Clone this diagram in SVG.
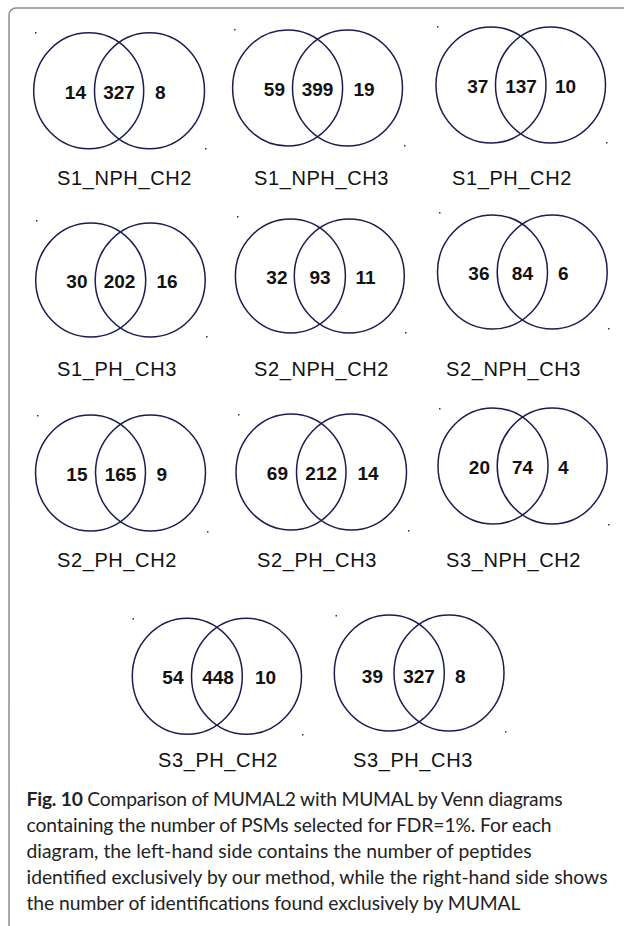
<svg xmlns="http://www.w3.org/2000/svg" width="624" height="926" viewBox="0 0 624 926">
<style>
.frame{fill:none;stroke:#8c8c8c;stroke-width:1.5}
.c{fill:none;stroke:#1c1c50;stroke-width:1.5}
.n{font-family:"Liberation Sans",Arial,sans-serif;font-weight:bold;font-size:19px;fill:#111}
.l{font-family:"Liberation Sans",Arial,sans-serif;font-size:20px;letter-spacing:0.6px;fill:#111}
.d{fill:#333}
.cap{font-family:Lato,"Open Sans",sans-serif;font-size:19.3px;fill:#222}
.capb{font-weight:bold}
</style>
<rect class="frame" x="9" y="8" width="700" height="1000" rx="7"/>
<g id="v1">
<ellipse class="c" cx="88.7" cy="90.7" rx="55" ry="58"/><ellipse class="c" cx="149.5" cy="90.7" rx="55" ry="58"/>
<text class="n" x="86" y="99" text-anchor="end">14</text><text class="n" x="119" y="99" text-anchor="middle">327</text><text class="n" x="155" y="99">8</text>
<text class="l" x="57" y="185">S1_NPH_CH2</text>
<rect class="d" x="35" y="32" width="1.5" height="1.5"/><rect class="d" x="205" y="148" width="1.5" height="1.5"/>
</g>
<g id="v2">
<ellipse class="c" cx="287.6" cy="88" rx="55" ry="58"/><ellipse class="c" cx="347.5" cy="88" rx="55" ry="58"/>
<text class="n" x="285" y="96" text-anchor="end">59</text><text class="n" x="317.5" y="96" text-anchor="middle">399</text><text class="n" x="353.5" y="96">19</text>
<text class="l" x="254" y="185">S1_NPH_CH3</text>
<rect class="d" x="234" y="29" width="1.5" height="1.5"/><rect class="d" x="404" y="145" width="1.5" height="1.5"/>
</g>
<g id="v3">
<ellipse class="c" cx="491" cy="85" rx="55" ry="58"/><ellipse class="c" cx="550.5" cy="85" rx="55" ry="58"/>
<text class="n" x="488.3" y="93" text-anchor="end">37</text><text class="n" x="521" y="93" text-anchor="middle">137</text><text class="n" x="555" y="93">10</text>
<text class="l" x="452" y="185">S1_PH_CH2</text>
<rect class="d" x="437" y="26" width="1.5" height="1.5"/><rect class="d" x="606" y="142" width="1.5" height="1.5"/>
</g>
<g id="v4">
<ellipse class="c" cx="90.7" cy="280" rx="55" ry="57"/><ellipse class="c" cx="150.2" cy="280" rx="55" ry="57"/>
<text class="n" x="87.5" y="288" text-anchor="end">30</text><text class="n" x="119.5" y="288" text-anchor="middle">202</text><text class="n" x="156.5" y="288">16</text>
<text class="l" x="57" y="376">S1_PH_CH3</text>
<rect class="d" x="36" y="220" width="1.5" height="1.5"/><rect class="d" x="206" y="336" width="1.5" height="1.5"/>
</g>
<g id="v5">
<ellipse class="c" cx="290.4" cy="276" rx="55" ry="57"/><ellipse class="c" cx="349.3" cy="276" rx="55" ry="57"/>
<text class="n" x="287.5" y="284" text-anchor="end">32</text><text class="n" x="320" y="284" text-anchor="middle">93</text><text class="n" x="355.5" y="284">11</text>
<text class="l" x="254" y="376">S2_NPH_CH2</text>
<rect class="d" x="237" y="216" width="1.5" height="1.5"/><rect class="d" x="405" y="332" width="1.5" height="1.5"/>
</g>
<g id="v6">
<ellipse class="c" cx="492.5" cy="272" rx="55" ry="57"/><ellipse class="c" cx="552.2" cy="272" rx="55" ry="57"/>
<text class="n" x="489.5" y="280" text-anchor="end">36</text><text class="n" x="522.4" y="280" text-anchor="middle">84</text><text class="n" x="558" y="280">6</text>
<text class="l" x="446" y="376">S2_NPH_CH3</text>
<rect class="d" x="439" y="212" width="1.5" height="1.5"/><rect class="d" x="608" y="328" width="1.5" height="1.5"/>
</g>
<g id="v7">
<ellipse class="c" cx="90.5" cy="473" rx="55" ry="58"/><ellipse class="c" cx="150.5" cy="473" rx="55" ry="58"/>
<text class="n" x="87.5" y="481" text-anchor="end">15</text><text class="n" x="120.5" y="481" text-anchor="middle">165</text><text class="n" x="156.5" y="481">9</text>
<text class="l" x="57" y="567">S2_PH_CH2</text>
<rect class="d" x="37" y="415" width="1.5" height="1.5"/><rect class="d" x="207" y="531" width="1.5" height="1.5"/>
</g>
<g id="v8">
<ellipse class="c" cx="291" cy="472" rx="55" ry="58"/><ellipse class="c" cx="351.5" cy="472" rx="55" ry="58"/>
<text class="n" x="288" y="480" text-anchor="end">69</text><text class="n" x="321.2" y="480" text-anchor="middle">212</text><text class="n" x="357.5" y="480">14</text>
<text class="l" x="257" y="567">S2_PH_CH3</text>
<rect class="d" x="238" y="414" width="1.5" height="1.5"/><rect class="d" x="408" y="530" width="1.5" height="1.5"/>
</g>
<g id="v9">
<ellipse class="c" cx="493" cy="466" rx="55" ry="58"/><ellipse class="c" cx="552.2" cy="466" rx="55" ry="58"/>
<text class="n" x="490" y="474" text-anchor="end">20</text><text class="n" x="522.6" y="474" text-anchor="middle">74</text><text class="n" x="558" y="474">4</text>
<text class="l" x="446" y="567">S3_NPH_CH2</text>
<rect class="d" x="439" y="408" width="1.5" height="1.5"/><rect class="d" x="608" y="524" width="1.5" height="1.5"/>
</g>
<g id="v10">
<ellipse class="c" cx="187.3" cy="676.3" rx="55" ry="58"/><ellipse class="c" cx="246.5" cy="676.3" rx="55" ry="58"/>
<text class="n" x="183.5" y="684" text-anchor="end">54</text><text class="n" x="218" y="684" text-anchor="middle">448</text><text class="n" x="255" y="684">10</text>
<text class="l" x="158" y="767">S3_PH_CH2</text>
<rect class="d" x="132.5" y="618" width="1.5" height="1.5"/><rect class="d" x="302" y="734" width="1.5" height="1.5"/>
</g>
<g id="v11">
<ellipse class="c" cx="389.3" cy="673" rx="55" ry="58"/><ellipse class="c" cx="449" cy="673" rx="55" ry="58"/>
<text class="n" x="383" y="683" text-anchor="end">39</text><text class="n" x="419" y="683" text-anchor="middle">327</text><text class="n" x="455" y="683">8</text>
<text class="l" x="353" y="767">S3_PH_CH3</text>
<rect class="d" x="335.5" y="615" width="1.5" height="1.5"/><rect class="d" x="505" y="731" width="1.5" height="1.5"/>
</g>
<g id="caption" class="cap">
<text x="26.5" y="806" textLength="536"><tspan class="capb">Fig. 10</tspan> Comparison of MUMAL2 with MUMAL by Venn diagrams</text>
<text x="26.5" y="832" textLength="525">containing the number of PSMs selected for FDR=1%. For each</text>
<text x="26.5" y="858" textLength="505">diagram, the left-hand side contains the number of peptides</text>
<text x="26.5" y="884" textLength="581">identified exclusively by our method, while the right-hand side shows</text>
<text x="26.5" y="910" textLength="494">the number of identifications found exclusively by MUMAL</text>
</g>
</svg>
